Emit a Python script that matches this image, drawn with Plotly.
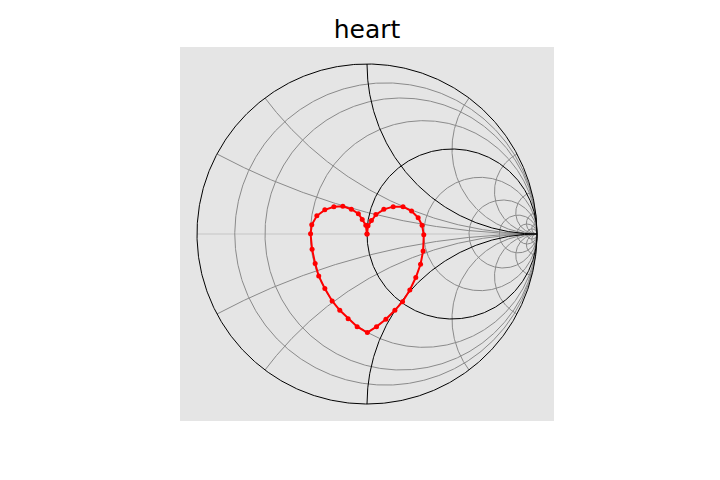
import numpy as np
import plotly.graph_objects as go

# ---- data ----
title_text = "heart"
resistance_grey = [0.125, 0.25, 0.5, 2, 4, 8, 16, 32]
resistance_black = [0, 1]
reactance_grey = [0.25, 0.5, 2, 4, 8, 16, 32]
reactance_black = [1]

gamma_re = [0.000, -0.007, -0.028, -0.051, -0.092, -0.142, -0.195, -0.248, -0.295, -0.325,
            -0.332, -0.323, -0.305, -0.284, -0.248, -0.205, -0.160, -0.111, -0.058, 0.002,
            0.056, 0.111, 0.164, 0.209, 0.252, 0.287, 0.315, 0.330, 0.334, 0.324,
            0.301, 0.262, 0.212, 0.154, 0.099, 0.052, 0.026, 0.006, 0.000]
gamma_im = [0.000, 0.051, 0.086, 0.119, 0.146, 0.163, 0.160, 0.142, 0.107, 0.054,
            0.001, -0.090, -0.174, -0.247, -0.321, -0.394, -0.449, -0.498, -0.545, -0.580,
            -0.545, -0.501, -0.449, -0.398, -0.329, -0.256, -0.178, -0.100, -0.005, 0.051,
            0.096, 0.135, 0.161, 0.161, 0.145, 0.114, 0.079, 0.048, 0.000]


def resistance_circles(values):
    xs, ys = [], []
    th = np.linspace(0, 2 * np.pi, 721)
    for r in values:
        c = r / (1 + r)
        a = 1 / (1 + r)
        xs += list(c + a * np.cos(th)) + [None]
        ys += list(a * np.sin(th)) + [None]
    return xs, ys


def reactance_arcs(values):
    xs, ys = [], []
    rr = np.concatenate([[0.0], np.logspace(-3, 5, 800)])
    for x in values:
        for sx in (x, -x):
            z = rr + 1j * sx
            g = (z - 1) / (z + 1)
            xs += list(g.real) + [None]
            ys += list(g.imag) + [None]
    return xs, ys


fig = go.Figure()

# real axis
fig.add_trace(go.Scatter(x=[-1, 1], y=[0, 0], mode="lines",
                         line=dict(color="#cfcfcf", width=1.6),
                         hoverinfo="skip", showlegend=False))

gx1, gy1 = resistance_circles(resistance_grey)
gx2, gy2 = reactance_arcs(reactance_grey)
fig.add_trace(go.Scatter(x=gx1 + gx2, y=gy1 + gy2, mode="lines",
                         line=dict(color="#8a8a8a", width=1),
                         hoverinfo="skip", showlegend=False))

bx1, by1 = resistance_circles(resistance_black)
bx2, by2 = reactance_arcs(reactance_black)
fig.add_trace(go.Scatter(x=bx1 + bx2, y=by1 + by2, mode="lines",
                         line=dict(color="#000000", width=1),
                         hoverinfo="skip", showlegend=False))

fig.add_trace(go.Scatter(x=gamma_re, y=gamma_im, mode="lines+markers",
                         line=dict(color="#ff0000", width=2),
                         marker=dict(color="#ff0000", size=5),
                         showlegend=False))

axis_style = dict(range=[-1.1, 1.1], showgrid=False, zeroline=False,
                  showticklabels=False, ticks="", showline=False, fixedrange=True)

fig.update_layout(
    width=720, height=480,
    margin=dict(l=172, r=174, t=39, b=67, pad=0),
    paper_bgcolor="white",
    plot_bgcolor="#e5e5e5",
    xaxis=dict(**axis_style),
    yaxis=dict(**axis_style, scaleanchor="x", scaleratio=1),
    title=dict(text=title_text, x=0.5, xref="paper", xanchor="center",
               y=1 - 20.9 / 480, yref="container", yanchor="middle",
               font=dict(family="DejaVu Sans", size=25, color="black")),
)

fig.write_html("out.html")
